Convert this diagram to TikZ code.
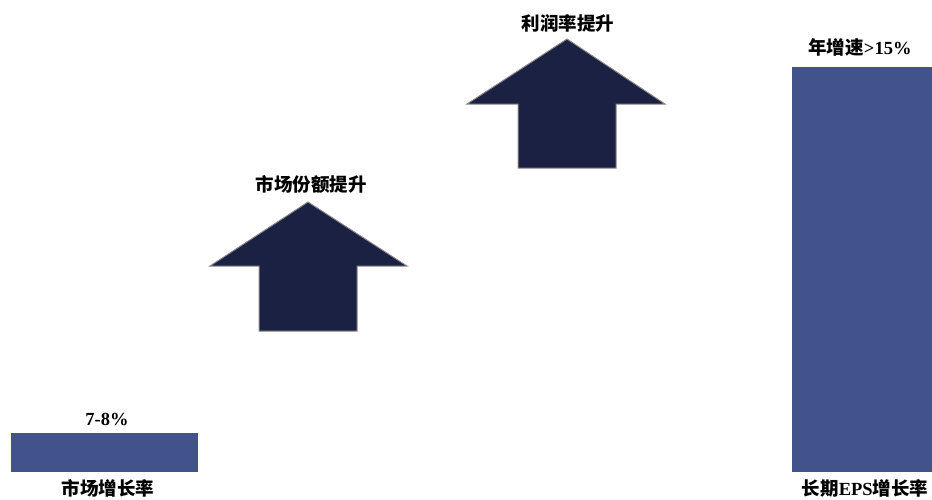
\documentclass[tikz,border=0pt]{standalone}
\usepackage{fontspec}
\setmainfont{Liberation Serif}
\newfontfamily\cjk{Noto Sans CJK SC}
\definecolor{barblue}{HTML}{42528B}
\definecolor{arrowfill}{HTML}{1B2142}
\definecolor{arrowedge}{HTML}{8A8A8A}
\tikzset{
  bar/.style={fill=barblue, draw=none},
  uparrow/.style={fill=arrowfill, draw=arrowedge, line width=1pt, line join=miter},
  lbl/.style={font=\bfseries\fontsize{18.5}{20}\selectfont, inner sep=0pt, anchor=center},
}
\begin{document}
\begin{tikzpicture}[x=1pt,y=-1pt]
\useasboundingbox (0,0) rectangle (932,499);
% bars
\path[bar] (11,433) rectangle (198,472);
\path[bar] (792,67) rectangle (932,472);
% arrows
\path[uparrow] (308,202) -- (407,266) -- (357,266) -- (357,331) -- (259,331) -- (259,266) -- (210,266) -- cycle;
\path[uparrow] (567,39) -- (665,104) -- (616,104) -- (616,168) -- (518,168) -- (518,104) -- (467,104) -- cycle;
% labels
\node[lbl] (l1) at (107,419) {7-8\%};
\node[lbl] (l2) at (108,488) {\cjk 市场增长率};
\node[lbl] (l3) at (311,184) {\cjk 市场份额提升};
\node[lbl] (l4) at (568,23) {\cjk 利润率提升};
\node[lbl] (l5) at (860,47) {{\cjk 年增速}>15\%};
\node[lbl] (l6) at (865,488) {{\cjk 长期}EPS{\cjk 增长率}};
\end{tikzpicture}
\end{document}
